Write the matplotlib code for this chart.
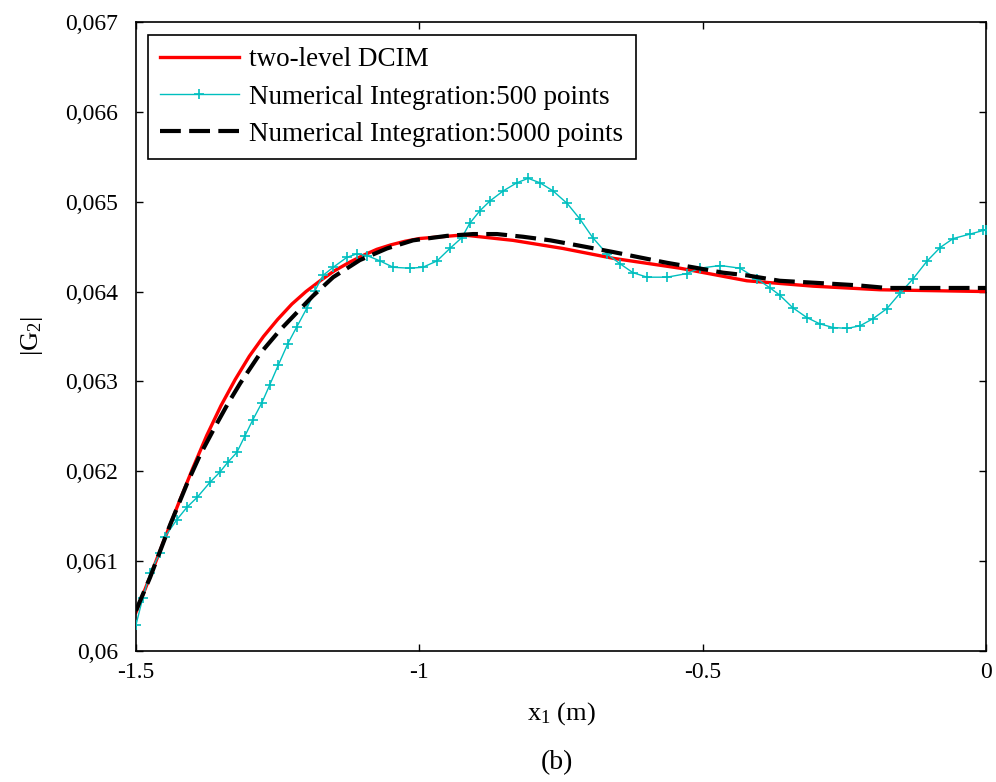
import numpy as np
import matplotlib
matplotlib.use("Agg")
import matplotlib.pyplot as plt
from matplotlib.ticker import FuncFormatter

plt.rcParams['font.family'] = ['Liberation Serif', 'DejaVu Serif']
plt.rcParams['mathtext.default'] = 'regular'

# two-level DCIM (red)
x_dcim = [-1.5, -1.475, -1.45, -1.425, -1.4, -1.375, -1.35, -1.325, -1.3, -1.275,
          -1.25, -1.225, -1.2, -1.175, -1.15, -1.125, -1.1, -1.075, -1.05, -1.025,
          -1.0, -0.923, -0.835, -0.747, -0.658, -0.540, -0.422, -0.305, -0.187, 0.0]
y_dcim = [0.06043, 0.06083, 0.06124, 0.06164, 0.06203, 0.06240, 0.06273, 0.06302, 0.06328, 0.06350,
          0.06369, 0.06386, 0.06400, 0.06412, 0.06423, 0.06432, 0.06440, 0.06447, 0.06452, 0.06456,
          0.06459, 0.06463, 0.06457, 0.06448, 0.06437, 0.06426, 0.06412, 0.06406, 0.06402, 0.06400]

# numerical integration, 500 points (cyan)
x_500 = [-1.5, -1.488, -1.475, -1.458, -1.449, -1.428, -1.410, -1.392, -1.369, -1.352,
         -1.338, -1.322, -1.308, -1.294, -1.278, -1.264, -1.249, -1.232, -1.216, -1.198,
         -1.184, -1.170, -1.152, -1.128, -1.110, -1.092, -1.069, -1.046, -1.017, -0.994,
         -0.969, -0.946, -0.925, -0.911, -0.893, -0.875, -0.852, -0.828, -0.808, -0.787,
         -0.764, -0.739, -0.717, -0.694, -0.669, -0.646, -0.623, -0.598, -0.563, -0.528,
         -0.505, -0.469, -0.434, -0.404, -0.381, -0.364, -0.341, -0.316, -0.293, -0.270,
         -0.245, -0.222, -0.199, -0.175, -0.152, -0.129, -0.104, -0.081, -0.058, -0.028,
         -0.005, 0.0]
y_500 = [0.06029, 0.06059, 0.06087, 0.06109, 0.06127, 0.06146, 0.06160, 0.06171, 0.06188, 0.06199,
         0.06210, 0.06221, 0.06239, 0.06257, 0.06276, 0.06296, 0.06318, 0.06342, 0.06361, 0.06382,
         0.06401, 0.06418, 0.06427, 0.06438, 0.06442, 0.06440, 0.06434, 0.06427, 0.06426, 0.06427,
         0.06434, 0.06448, 0.06460, 0.06476, 0.06490, 0.06501, 0.06512, 0.06521, 0.06526, 0.06521,
         0.06512, 0.06498, 0.06481, 0.06460, 0.06442, 0.06431, 0.06421, 0.06416, 0.06416, 0.06420,
         0.06426, 0.06429, 0.06426, 0.06414, 0.06404, 0.06396, 0.06382, 0.06371, 0.06364, 0.06360,
         0.06359, 0.06362, 0.06370, 0.06381, 0.06398, 0.06414, 0.06434, 0.06449, 0.06459, 0.06464,
         0.06468, 0.06468]

# numerical integration, 5000 points (black dashed)
x_5000 = [-1.5, -1.475, -1.440, -1.410, -1.387, -1.360, -1.338, -1.316, -1.281, -1.246,
          -1.211, -1.188, -1.152, -1.105, -1.057, -1.011, -0.951, -0.905, -0.863, -0.817,
          -0.769, -0.717, -0.658, -0.611, -0.563, -0.517, -0.464, -0.422, -0.364, -0.281,
          -0.228, -0.175, -0.081, 0.0]
y_5000 = [0.06045, 0.06082, 0.06140, 0.06186, 0.06218, 0.06250, 0.06275, 0.06298, 0.06331, 0.06357,
          0.06380, 0.06395, 0.06416, 0.06435, 0.06448, 0.06457, 0.06462, 0.06464, 0.06464, 0.06461,
          0.06457, 0.06451, 0.06444, 0.06438, 0.06432, 0.06427, 0.06421, 0.06418, 0.06412, 0.06409,
          0.06407, 0.06404, 0.06404, 0.06404]

x_ticks = [-1.5, -1, -0.5, 0]
y_ticks = [0.060, 0.061, 0.062, 0.063, 0.064, 0.065, 0.066, 0.067]

fig = plt.figure(figsize=(9.96, 7.82), dpi=100)
ax = fig.add_axes([0.1365, 0.1675, 0.8535, 0.8044])

ax.plot(x_dcim, y_dcim, color='#ff0000', lw=2.4, label='two-level DCIM', zorder=2)
ax.plot(x_500, y_500, color='#00bfbf', lw=1.0, marker='+', ms=7, mew=1.2,
        label='Numerical Integration:500 points', zorder=3)
ax.plot(x_5000, y_5000, color='black', lw=3.0, dashes=(5, 2),
        label='Numerical Integration:5000 points', zorder=4)

ax.set_xlim(-1.5, 0)
ax.set_ylim(0.060, 0.067)
ax.set_xticks(x_ticks)
ax.set_yticks(y_ticks)
ax.xaxis.set_major_formatter(FuncFormatter(lambda v, p: f'{v:g}'))
ax.yaxis.set_major_formatter(FuncFormatter(lambda v, p: f'{v:g}'.replace('.', ',')))
ax.tick_params(direction='in', top=True, right=True, length=5, width=1, labelsize=17)
ax.tick_params(axis='x', pad=8)
ax.tick_params(axis='y', pad=13)
for s in ax.spines.values():
    s.set_linewidth(1.2)

ax.set_xlabel('x$_1$ (m)', fontsize=19, labelpad=12)
ax.set_ylabel('|G$_2$|', fontsize=19, labelpad=14)
fig.text(0.559, 0.016, '(b)', fontsize=20, ha='center')

leg = ax.legend(loc='upper left', bbox_to_anchor=(0.014, 0.979), fontsize=19.5, frameon=True,
                fancybox=False, edgecolor='black', framealpha=1, handlelength=2.9,
                handletextpad=0.4, borderpad=0.45, labelspacing=0.45, borderaxespad=0)
leg.get_frame().set_linewidth(1.2)

fig.savefig('out.png', dpi=100)
